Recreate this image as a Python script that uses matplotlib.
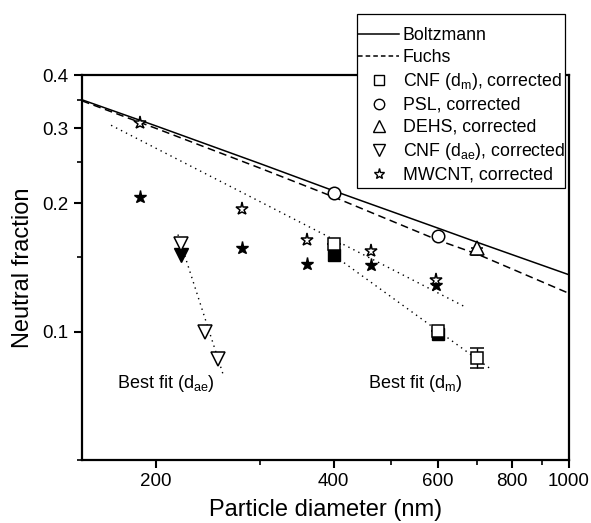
"""Neutral fraction vs particle diameter (log-log), Boltzmann/Fuchs vs measured."""

import matplotlib
matplotlib.use("Agg")
import matplotlib.pyplot as plt
from matplotlib.lines import Line2D
from matplotlib.patches import Rectangle
from matplotlib.ticker import FixedLocator, NullFormatter

plt.rcParams["font.family"] = ["Liberation Sans", "DejaVu Sans"]
plt.rcParams["mathtext.default"] = "regular"

# --- theory curves ---
theory_d = [150, 200, 300, 400, 600, 700, 1000]
boltzmann = [0.350, 0.304, 0.248, 0.214, 0.175, 0.162, 0.136]
fuchs = [0.348, 0.300, 0.242, 0.207, 0.164, 0.152, 0.123]

# --- corrected data (open markers) ---
cnf_dm_d = [400, 600, 700]
cnf_dm_f = [0.161, 0.1005, 0.0869]
cnf_dm_err_lo = [0.0, 0.0, 0.0045]
cnf_dm_err_hi = [0.0, 0.0, 0.0049]

psl_d = [400, 600]
psl_f = [0.212, 0.168]

dehs_d = [700]
dehs_f = [0.157]
dehs_err = [0.006]

cnf_dae_d = [221, 242, 255]
cnf_dae_f = [0.161, 0.100, 0.0865]

mwcnt_d = [188, 280, 360, 462, 595]
mwcnt_f = [0.309, 0.194, 0.164, 0.155, 0.132]

# --- uncorrected data (filled markers) ---
cnf_dm_raw_d = [400, 600]
cnf_dm_raw_f = [0.151, 0.0985]

cnf_dae_raw_d = [221]
cnf_dae_raw_f = [0.151]

mwcnt_raw_d = [188, 280, 360, 462, 595]
mwcnt_raw_f = [0.207, 0.157, 0.144, 0.1435, 0.129]

# --- best-fit lines (end points) ---
fit_mwcnt_d = [168, 666]
fit_mwcnt_f = [0.305, 0.1145]
fit_dm_d = [395, 735]
fit_dm_f = [0.153, 0.082]
fit_dae_d = [218, 260]
fit_dae_f = [0.169, 0.0793]

fig = plt.figure(figsize=(5.91, 5.23), dpi=100)
ax = fig.add_axes([0.1387, 0.1205, 0.824, 0.736])
ax.set_xscale("log")
ax.set_yscale("log")

dash = (0, (5, 3))
dot = (0, (1, 3))
ax.plot(theory_d, boltzmann, color="black", lw=1.1)
ax.plot(theory_d, fuchs, color="black", lw=1.1, ls=dash)

ax.plot(fit_mwcnt_d, fit_mwcnt_f, color="black", lw=1.0, ls=dot)
ax.plot(fit_dm_d, fit_dm_f, color="black", lw=1.0, ls=dot)
ax.plot(fit_dae_d, fit_dae_f, color="black", lw=1.0, ls=dot)

ms = 8.5
# filled (uncorrected) markers first, open ones on top
ax.plot(cnf_dm_raw_d, cnf_dm_raw_f, "s", color="black", ms=ms, ls="none")
ax.plot(cnf_dae_raw_d, cnf_dae_raw_f, "v", color="black", ms=ms + 1, ls="none")
ax.plot(mwcnt_raw_d, mwcnt_raw_f, "*", color="black", ms=ms + 1, ls="none")

open_kw = dict(mfc="white", mec="black", mew=1.1, ls="none")
ax.errorbar(cnf_dm_d, cnf_dm_f, yerr=[cnf_dm_err_lo, cnf_dm_err_hi], fmt="s",
            color="black", ms=ms, capsize=5, elinewidth=1, mfc="white", mec="black", mew=1.1)
ax.plot(psl_d, psl_f, "o", ms=ms + 0.5, **open_kw)
ax.errorbar(dehs_d, dehs_f, yerr=[dehs_err, [0.0]], fmt="^", color="black",
            ms=ms + 1, capsize=4, elinewidth=1, mfc="white", mec="black", mew=1.1)
ax.plot(cnf_dae_d, cnf_dae_f, "v", ms=ms + 1, **open_kw)
ax.plot(mwcnt_d, mwcnt_f, "*", ms=ms + 1, **open_kw)

ax.text(172, 0.0756, "Best fit (d$_{ae}$)", fontsize=13, va="center", ha="left")
ax.text(457, 0.0756, "Best fit (d$_{m}$)", fontsize=13, va="center", ha="left")

ax.set_xlim(150, 1000)
ax.set_ylim(0.05, 0.4)
ax.xaxis.set_major_locator(FixedLocator([200, 400, 600, 800, 1000]))
ax.xaxis.set_minor_locator(FixedLocator([300, 500, 700, 900]))
ax.set_xticklabels(["200", "400", "600", "800", "1000"])
ax.xaxis.set_minor_formatter(NullFormatter())
ax.yaxis.set_major_locator(FixedLocator([0.1, 0.2, 0.3, 0.4]))
ax.yaxis.set_minor_locator(FixedLocator([0.05, 0.15, 0.25, 0.35]))
ax.set_yticklabels(["0.1", "0.2", "0.3", "0.4"])
ax.yaxis.set_minor_formatter(NullFormatter())
ax.tick_params(which="major", direction="out", length=6, width=1.5, labelsize=13.5)
ax.tick_params(which="minor", direction="out", length=3.5, width=1.2)
for sp in ax.spines.values():
    sp.set_linewidth(1.6)

ax.set_xlabel("Particle diameter (nm)", fontsize=17, labelpad=6)
ax.set_ylabel("Neutral fraction", fontsize=17, labelpad=6)

# legend box drawn separately (extra room on top, as in the original)
fig.patches.append(Rectangle((0.604, 0.6405), 0.352, 0.3327, transform=fig.transFigure,
                             facecolor="white", edgecolor="black", lw=0.9, zorder=3))

# legend proxies (no error bars in the key)
lms = 7
leg_kw = dict(color="black", mfc="white", mec="black", mew=1.0, ls="none")
handles = [
    Line2D([], [], color="black", lw=1.1),
    Line2D([], [], color="black", lw=1.1, ls=(0, (3, 2))),
    Line2D([], [], marker="s", ms=lms, **leg_kw),
    Line2D([], [], marker="o", ms=lms + 0.5, **leg_kw),
    Line2D([], [], marker="^", ms=lms + 1, **leg_kw),
    Line2D([], [], marker="v", ms=lms + 1, **leg_kw),
    Line2D([], [], marker="*", ms=lms + 1, **leg_kw),
]
labels = ["Boltzmann", "Fuchs", "CNF (d$_{m}$), corrected", "PSL, corrected",
          "DEHS, corrected", "CNF (d$_{ae}$), corrected", "MWCNT, corrected"]
leg = fig.legend(handles, labels, loc="upper right", bbox_to_anchor=(565 / 591, 1 - 27 / 523),
                 borderaxespad=0, fontsize=12.8, frameon=False,
                 handlelength=2.3, handletextpad=0.2, labelspacing=0.28, borderpad=0)
leg.set_zorder(6)

fig.savefig("out.png", dpi=100)
